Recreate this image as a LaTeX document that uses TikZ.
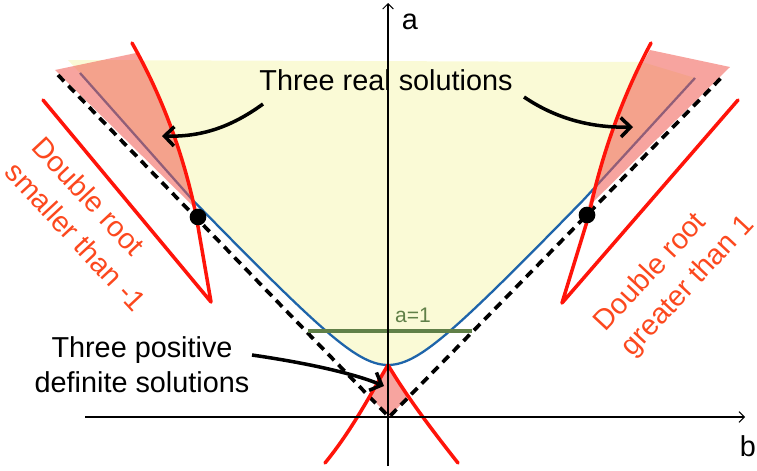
\documentclass[tikz,border=0pt]{standalone}
\usepackage{fontspec}
\setmainfont{Liberation Sans}
\usetikzlibrary{arrows.meta}

\definecolor{realyel}{RGB}{250,250,214}
\definecolor{rootpink}{RGB}{240,90,80}
\definecolor{curvblue}{RGB}{30,100,170}
\definecolor{rootred}{RGB}{255,20,10}
\definecolor{labred}{RGB}{252,72,30}
\definecolor{oneline}{RGB}{96,128,72}

\begin{document}
\begin{tikzpicture}[x=0.02cm,y=-0.02cm,
  lab/.style={font=\fontsize{16.4}{19.8}\selectfont,align=center,inner sep=0pt},
  rootlab/.style={labred,font=\fontsize{16.4}{21}\selectfont,align=left,inner sep=0pt,anchor=north west},
  redcurve/.style={rootred,line width=2pt,line join=round,line cap=round},
  pointer/.style={line width=2pt,-{Straight Barb[length=5.5pt,width=11pt,line width=2pt]}},
  dot/.style={circle,fill=black,inner sep=0pt,minimum size=9.5pt}]
  \useasboundingbox (0,0) rectangle (757,470);
  \coordinate (O) at (389,417);
  \coordinate (L) at (58,75); \coordinate (R) at (722,77);
  % region with three real solutions
  \fill[realyel] (68,60) -- (642,62) -- (695,78)
    -- plot[domain=1.96:-1.96,samples=60,smooth] ({388+100*\x},{365-100*(sqrt(1.1025*\x*\x+0.2025)-0.45)})
    -- (80,73) -- cycle;
  \draw[curvblue,line width=1.3pt] (80,73)
    -- plot[domain=-1.96:1.96,samples=60,smooth] ({388+100*\x},{365-100*(sqrt(1.1025*\x*\x+0.2025)-0.45)})
    -- (695,78);
  % double root regions
  \fill[rootpink,opacity=0.55] (55,70) -- (136,53) .. controls (170,115) and (188,170) .. (194,207) -- cycle;
  \fill[rootpink,opacity=0.55] (650,50) -- (730,67) -- (588,207) .. controls (598,170) and (615,110) .. (650,50) -- cycle;
  \fill[rootpink,opacity=0.55] (388,366) -- (370,396) -- (O) -- (408,397) -- cycle;
  \draw[line width=2.1pt,dash pattern=on 5pt off 3.5pt] (L) -- (O) -- (R);
  % red curves
  \draw[redcurve] (132,43) .. controls (170,110) and (188,175) .. (196,215) -- (211,302) -- (43,100);
  \draw[redcurve] (651,43) .. controls (615,110) and (597,175) .. (589,215) -- (562,303) -- (738,100);
  \draw[redcurve] (388,365) .. controls (370,395) and (352,430) .. (325,463);
  \draw[redcurve] (388,365) .. controls (406,395) and (428,425) .. (458,463);
  \node[dot] (dl) at (198,217) {};
  \node[dot] (dr) at (587,215) {};
  % line a=1
  \draw[oneline,line width=1.9pt] (308,331) -- (472,331);
  \node[oneline,font=\fontsize{12}{14}\selectfont,inner sep=0pt] (one) at (413,315) {a=1};
  % axes
  \draw[line width=0.6pt,-{Straight Barb[length=3pt,width=6pt]}] (388,466) -- (388,3);
  \draw[line width=0.6pt,-{Straight Barb[length=3pt,width=6pt]}] (85,417) -- (745,417);
  \node[lab] (alab) at (410,22) {a};
  \node[lab] (blab) at (748,446) {b};
  % labels
  \node[lab] (real) at (386,80) {Three real solutions};
  \node[lab] (posdef) at (142,365) {Three positive\\definite solutions};
  \node[rootlab,rotate=-47] (small) at (46,134) {Double root\\smaller than -1};
  \node[rootlab,rotate=47] (great) at (590,318) {Double root\\greater than 1};
  \coordinate (t1) at (263,104); \coordinate (h1) at (162,136);
  \coordinate (t2) at (524,97);  \coordinate (h2) at (633,127);
  \coordinate (t3) at (252,355); \coordinate (h3) at (384,386);
  \draw[pointer] (t1) .. controls (230,128) and (200,137) .. (h1);
  \draw[pointer] (t2) .. controls (555,118) and (590,128) .. (h2);
  \draw[pointer] (t3) .. controls (300,362) and (350,372) .. (h3);
\end{tikzpicture}
\end{document}
